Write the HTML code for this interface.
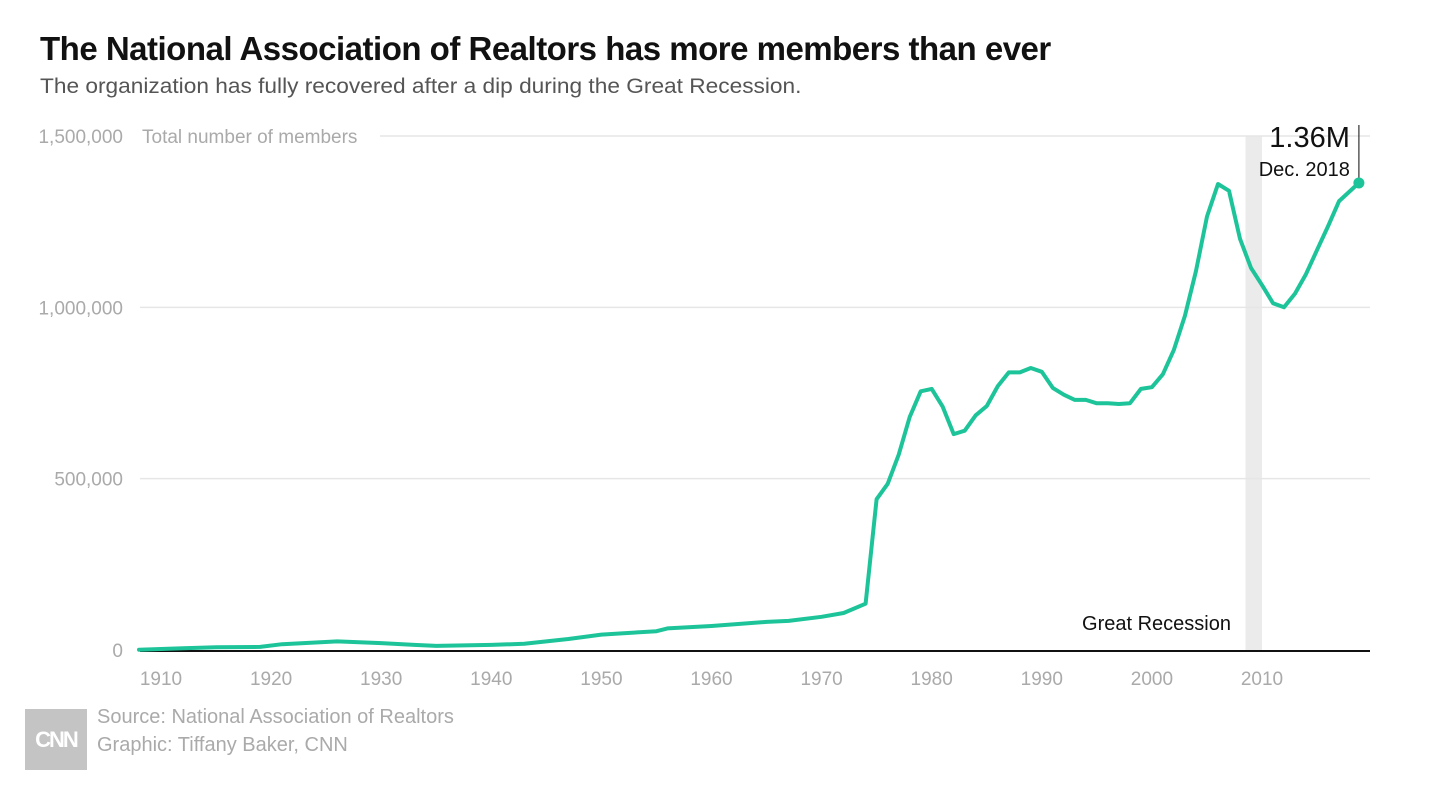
<!DOCTYPE html>
<html><head><meta charset="utf-8"><style>
body{margin:0;background:#fff;width:1430px;height:788px;overflow:hidden;font-family:"Liberation Sans",sans-serif}
#title{position:absolute;left:40px;top:30px;font-size:33px;font-weight:bold;color:#111;letter-spacing:-0.5px;transform:scaleX(1.0);transform-origin:left;white-space:nowrap}
#sub{position:absolute;left:40px;top:75px;font-size:21px;color:#555;transform:scaleX(1.08);transform-origin:left;white-space:nowrap}
svg{position:absolute;left:0;top:0}
.foot{position:absolute;left:97px;font-size:20px;color:#aaa}
#logo{position:absolute;left:25px;top:709px;width:62px;height:61px;background:#c4c4c4;color:#fff;font-weight:bold;font-size:22px;text-align:center;line-height:61px;letter-spacing:-2px}
</style></head><body>
<div id="title">The National Association of Realtors has more members than ever</div>
<div id="sub">The organization has fully recovered after a dip during the Great Recession.</div>
<svg id="chart" width="1430" height="788"></svg>
<div id="logo">CNN</div>
<div class="foot" style="top:706px">Source: National Association of Realtors</div>
<div class="foot" style="top:734px">Graphic: Tiffany Baker, CNN</div>
<script>
const years=[1908,1912,1915,1919,1921,1926,1930,1933,1935,1940,1943,1945,1947,1950,1955,1956,1960,1965,1967,1970,1972,1974,1975,1976,1977,1978,1979,1980,1981,1982,1983,1984,1985,1986,1987,1988,1989,1990,1991,1992,1993,1994,1995,1996,1997,1998,1999,2000,2001,2002,2003,2004,2005,2006,2007,2008,2009,2010,2011,2012,2013,2014,2015,2016,2017,2018.8];
const members=[1000,5000,8000,9000,17000,25000,20000,15000,12000,15000,18000,25000,32000,45000,55000,63000,70000,82000,85000,97000,108000,135000,440000,485000,570000,680000,755000,762000,710000,630000,640000,685000,712000,770000,810000,810000,823000,812000,765000,745000,730000,730000,720000,720000,718000,720000,762000,767000,805000,876000,975000,1105000,1265000,1360000,1340000,1200000,1115000,1065000,1012000,1000000,1040000,1097000,1167000,1237000,1310000,1363000];
const yTicks=[0,500000,1000000,1500000];
const yTickLabels=["0","500,000","1,000,000","1,500,000"];
const xTicks=[1910,1920,1930,1940,1950,1960,1970,1980,1990,2000,2010];
const recession=[2008.5,2010];
const NS="http://www.w3.org/2000/svg";
const svg=document.getElementById('chart');
const X=y=>161+(y-1910)*11.01;
const Y=v=>650-v/1500000*514;
function mk(t,a,p){const e=document.createElementNS(NS,t);for(const k in a)e.setAttribute(k,a[k]);(p||svg).appendChild(e);return e;}
let r=mk('rect',{x:X(recession[0]),y:Y(1500000),width:X(recession[1])-X(recession[0]),height:Y(0)-Y(1500000),fill:'#ebebeb'});


yTicks.forEach((v,i)=>{
 if(v>0){let g=mk('line',{x1:i==3?380:140,x2:1370,y1:Y(v),y2:Y(v),stroke:'#e6e6e6','stroke-width':1.5});
 
 }
 let t=mk('text',{x:123,y:Y(v)+7,'text-anchor':'end','font-size':19,fill:'#aaa','font-family':'Liberation Sans'});
 t.textContent=yTickLabels[i];
 
 
});
let yt=mk('text',{x:142,y:Y(1500000)+7,'font-size':19,fill:'#aaa','font-family':'Liberation Sans'});
yt.textContent='Total number of members';


let ax=mk('line',{x1:140,x2:1370,y1:651,y2:651,stroke:'#111','stroke-width':2});


xTicks.forEach(y=>{let t=mk('text',{x:X(y),y:685,'text-anchor':'middle','font-size':19,fill:'#aaa','font-family':'Liberation Sans'});
 t.textContent=y;
 
 });
let rl=mk('text',{x:1231,y:630,'text-anchor':'end','font-size':20,fill:'#111','font-family':'Liberation Sans'});
rl.textContent='Great Recession';


let d=years.map((y,i)=>(i?'L':'M')+X(y).toFixed(1)+','+Y(members[i]).toFixed(1)).join('');
let p=mk('path',{d:d,fill:'none',stroke:'#1dc499','stroke-width':4,'stroke-linejoin':'round','stroke-linecap':'round'});


const lx=X(years[years.length-1]),ly=Y(members[members.length-1]);
let ll=mk('line',{x1:lx,x2:lx,y1:125,y2:ly,stroke:'#333','stroke-width':1.2});


let dot=mk('circle',{cx:lx,cy:ly,r:5.5,fill:'#1dc499'});


let a1=mk('text',{x:lx-9,y:147,'text-anchor':'end','font-size':29,fill:'#111','font-family':'Liberation Sans'});
a1.textContent='1.36M';


let a2=mk('text',{x:lx-9,y:176,'text-anchor':'end','font-size':20,fill:'#111','font-family':'Liberation Sans'});
a2.textContent='Dec. 2018';


</script>
</body></html>
